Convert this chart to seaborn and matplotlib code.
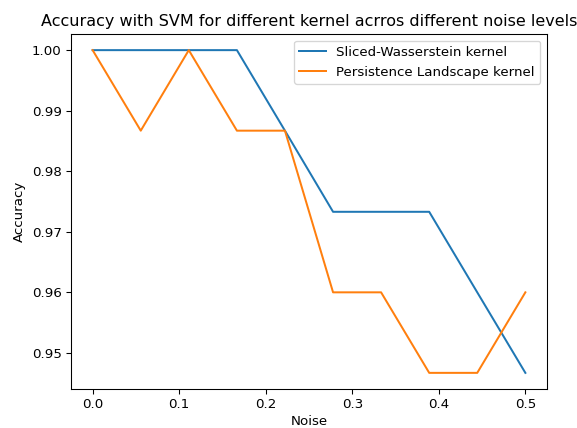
import matplotlib
matplotlib.use("Agg")
import matplotlib.pyplot as plt
import seaborn as sns
import pandas as pd

noise = [0.0, 0.0556, 0.1111, 0.1667, 0.2222, 0.2778, 0.3333, 0.3889, 0.4444, 0.5]
sliced_wasserstein = [1.0, 1.0, 1.0, 1.0, 0.9867, 0.9733, 0.9733, 0.9733, 0.96, 0.9467]
persistence_landscape = [1.0, 0.9867, 1.0, 0.9867, 0.9867, 0.96, 0.96, 0.9467, 0.9467, 0.96]
labels = ["Sliced-Wasserstein kernel", "Persistence Landscape kernel"]

df = pd.DataFrame({
    "Noise": noise * 2,
    "Accuracy": sliced_wasserstein + persistence_landscape,
    "kernel": [labels[0]] * len(noise) + [labels[1]] * len(noise),
})

plt.rcParams["font.family"] = ["DejaVu Sans"]
W, H, DPI = 577, 428, 96
fig = plt.figure(figsize=(W / DPI, H / DPI), dpi=DPI)
ax = fig.add_axes([71 / W, 1 - 389 / H, (547 - 71) / W, (389 - 34) / H])
sns.lineplot(data=df, x="Noise", y="Accuracy", hue="kernel",
             palette=["#1f77b4", "#ff7f0e"], ax=ax, linewidth=1.5)
ax.set_yticks([0.95, 0.96, 0.97, 0.98, 0.99, 1.00])
ax.set_yticklabels(["0.95", "0.96", "0.97", "0.98", "0.99", "1.00"])
ax.set_xticks([0.0, 0.1, 0.2, 0.3, 0.4, 0.5])
ax.set_xlabel("Noise", labelpad=2.5)
ax.set_ylabel("Accuracy")
ax.set_title("Accuracy with SVM for different kernel acrros different noise levels")
ax.legend(title=None, loc="upper right")
fig.savefig("out.png", dpi=DPI)
